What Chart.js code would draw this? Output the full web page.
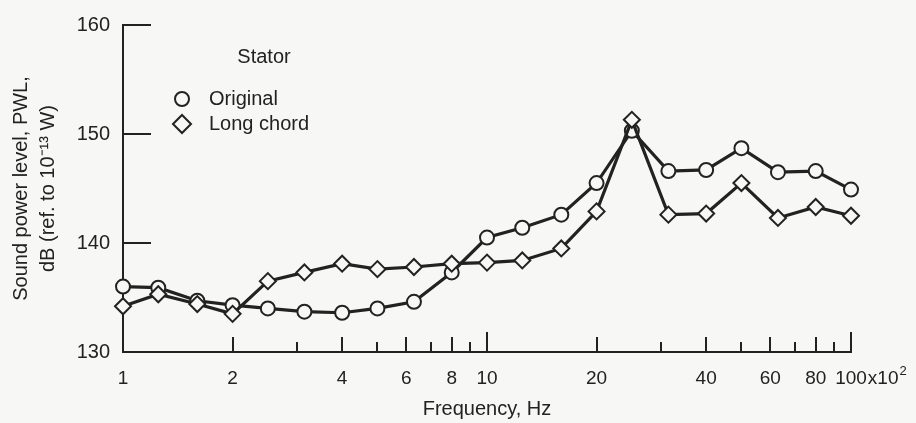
<!DOCTYPE html>
<html><head><meta charset="utf-8">
<script src="https://cdn.jsdelivr.net/npm/chart.js@4"></script>
<style>
html,body{margin:0;padding:0;background:#f7f7f5;overflow:hidden;}
#wrap{width:916px;height:423px;}
</style></head><body>
<div id="wrap"><canvas id="c" width="916" height="423"></canvas></div>
<script>
// ---- data (frequency in units of 10^2 Hz) ----
const frequencies = [1, 1.25, 1.6, 2, 2.5, 3.15, 4, 5, 6.3, 8, 10, 12.5, 16, 20, 25, 31.5, 40, 50, 63, 80, 100];
const originalPWL = [136.0, 135.9, 134.7, 134.3, 134.0, 133.7, 133.6, 134.0, 134.6, 137.3, 140.5, 141.4, 142.6, 145.5, 150.3, 146.6, 146.7, 148.7, 146.5, 146.6, 144.9];
const longChordPWL = [134.2, 135.3, 134.4, 133.5, 136.5, 137.3, 138.1, 137.6, 137.8, 138.1, 138.2, 138.4, 139.5, 142.9, 151.3, 142.6, 142.7, 145.5, 142.3, 143.3, 142.5];
const xLabelTicks = [1, 2, 4, 6, 8, 10, 20, 40, 60, 80, 100];
const xMinorTicks = [3, 5, 7, 9, 30, 50, 70, 90];
const xLongTicks = [10, 100];
const yTicks = [130, 140, 150, 160];
const seriesNames = ['Original', 'Long chord'];
const legendTitle = 'Stator';
const xTitle = 'Frequency, Hz';
const yTitle = ['Sound power level, PWL,', 'dB (ref. to 10\u207B\u00B9\u00B3 W)'];
const xLastSuffix = 'x10';
const xLastSup = '2';

const INK = '#222222';
const BG = '#f7f7f5';
const FONT = '"Liberation Sans", Arial, Helvetica, sans-serif';

const axisDecor = {
  id: 'axisDecor',
  beforeDatasetsDraw(chart) {
    const {ctx, scales: {x, y}, chartArea: a} = chart;
    ctx.save();
    ctx.strokeStyle = INK;
    ctx.lineWidth = 2;
    const drawX = (v, len) => {
      const px = Math.round(x.getPixelForValue(v));
      ctx.beginPath(); ctx.moveTo(px, a.bottom); ctx.lineTo(px, a.bottom - len); ctx.stroke();
    };
    xLabelTicks.forEach(v => { if (v !== xLabelTicks[0]) drawX(v, xLongTicks.includes(v) ? 20 : 15); });
    xMinorTicks.forEach(v => drawX(v, 10));
    yTicks.forEach(v => {
      if (v === yTicks[0]) return;
      const py = Math.round(y.getPixelForValue(v));
      ctx.beginPath(); ctx.moveTo(a.left, py); ctx.lineTo(a.left + 28, py); ctx.stroke();
    });
    ctx.restore();
  },
  afterDraw(chart) {
    const {ctx, scales: {x}, chartArea: a} = chart;
    ctx.save();
    ctx.fillStyle = INK;
    // suffix for last x label
    ctx.font = '19px ' + FONT;
    ctx.textBaseline = 'middle';
    ctx.textAlign = 'left';
    const last = xLabelTicks[xLabelTicks.length - 1];
    const px = x.getPixelForValue(last) + ctx.measureText(String(last)).width / 2 + 1;
    const ly = x.top + 15 + 11.4;
    ctx.fillText(xLastSuffix, px, ly);
    const w = ctx.measureText(xLastSuffix).width;
    ctx.font = '13px ' + FONT;
    ctx.fillText(xLastSup, px + w + 1, ly - 7);
    // legend
    const lx = a.left + 59, t = a.top;
    ctx.font = '20px ' + FONT;
    ctx.textAlign = 'center';
    ctx.fillText(legendTitle, a.left + 141, t + 32);
    ctx.textAlign = 'left';
    ctx.fillText(seriesNames[0], a.left + 86, t + 74);
    ctx.fillText(seriesNames[1], a.left + 86, t + 99);
    ctx.strokeStyle = INK;
    ctx.lineWidth = 2;
    ctx.beginPath(); ctx.arc(lx, t + 74, 7, 0, Math.PI * 2); ctx.stroke();
    const dy = t + 99, r = 9;
    ctx.beginPath(); ctx.moveTo(lx - r, dy); ctx.lineTo(lx, dy - r); ctx.lineTo(lx + r, dy); ctx.lineTo(lx, dy + r); ctx.closePath(); ctx.stroke();
    ctx.restore();
  }
};

const toPts = vals => frequencies.map((f, i) => ({x: f, y: vals[i]}));

new Chart(document.getElementById('c'), {
  type: 'line',
  data: {
    datasets: [
      {
        label: seriesNames[0], data: toPts(originalPWL), order: 2, clip: false,
        borderColor: INK, borderWidth: 3.2, tension: 0,
        pointStyle: 'circle', pointRadius: 7, pointBorderWidth: 2,
        pointBackgroundColor: BG, pointBorderColor: INK
      },
      {
        label: seriesNames[1], data: toPts(longChordPWL), order: 1, clip: false,
        borderColor: INK, borderWidth: 3.2, tension: 0,
        pointStyle: 'rectRot', pointRadius: 8, pointBorderWidth: 2,
        pointBackgroundColor: BG, pointBorderColor: INK
      }
    ]
  },
  options: {
    responsive: false,
    animation: false,
    layout: {padding: {top: 18, right: 65, left: 0, bottom: 0}},
    plugins: {legend: {display: false}, tooltip: {enabled: false}},
    scales: {
      x: {
        type: 'logarithmic', min: 1, max: 100, position: 'bottom',
        afterBuildTicks: s => { s.ticks = xLabelTicks.map(v => ({value: v})); },
        afterFit: s => { s.height = 71; },
        ticks: {
          autoSkip: false, maxRotation: 0, minRotation: 0, padding: 15, color: INK,
          font: {family: FONT, size: 19},
          callback: v => xLabelTicks.includes(v) ? String(v) : ''
        },
        grid: {display: false, drawTicks: false},
        border: {display: true, color: INK, width: 2},
        title: {display: true, text: xTitle, color: INK, font: {family: FONT, size: 20}, padding: {top: 0, bottom: 2}}
      },
      y: {
        min: 130, max: 160,
        afterBuildTicks: s => { s.ticks = yTicks.map(v => ({value: v})); },
        afterFit: s => { s.width = 123; },
        ticks: {padding: 13, color: INK, font: {family: FONT, size: 20}},
        grid: {display: false, drawTicks: false},
        border: {display: true, color: INK, width: 2},
        title: {display: true, text: yTitle, color: INK, font: {family: FONT, size: 20, lineHeight: 1.35}, padding: {top: 8, bottom: 0}}
      }
    }
  },
  plugins: [axisDecor]
});
</script>
</body></html>
